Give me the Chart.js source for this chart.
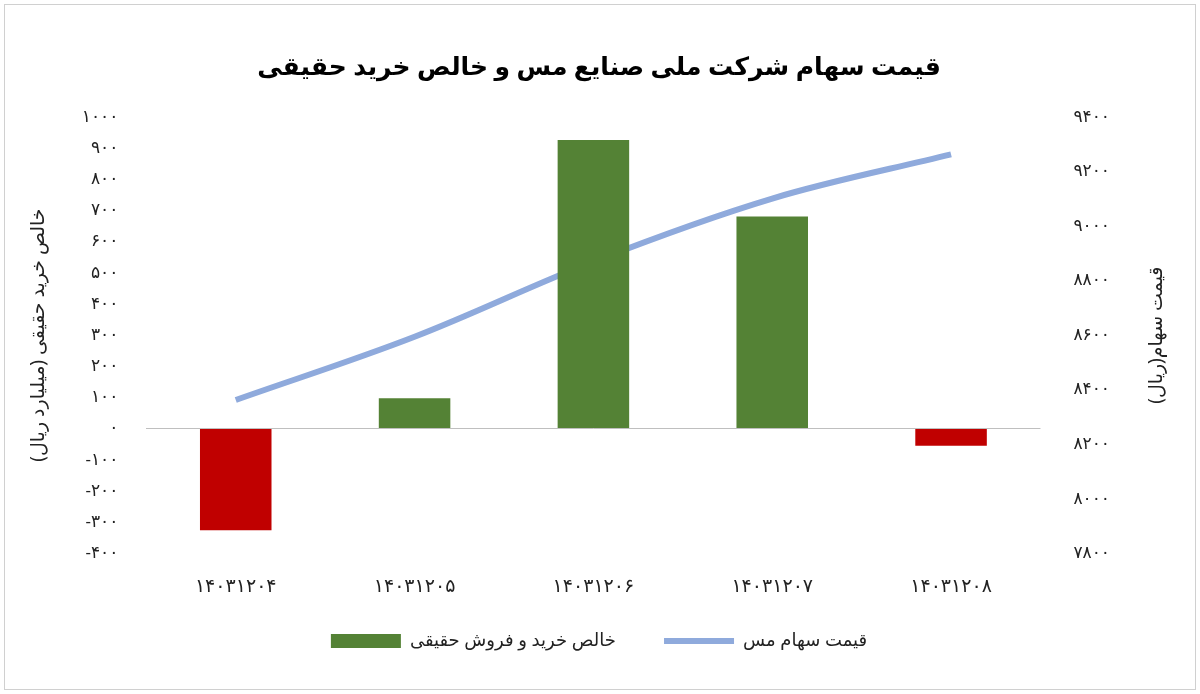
<!DOCTYPE html>
<html><head><meta charset="utf-8">
<script src="https://cdn.jsdelivr.net/npm/chart.js@4"></script>
<style>
body{margin:0;background:#fff;}
#wrap{position:absolute;left:4px;top:4px;width:1190px;height:684px;border:1px solid #d0d0d0;}
</style></head><body>
<div id="wrap"><canvas id="c"></canvas></div>
<script>
const categories = ["1403/12/04","1403/12/05","1403/12/06","1403/12/07","1403/12/08"];
const netBuy = [-326, 97, 926, 681, -55];
const price = [8362, 8594, 8870, 9101, 9263];
const leftTicks = {min:-400, max:1000, step:100};
const rightTicks = {min:7800, max:9400, step:200};
const fa = s => String(s).replace(/[0-9]/g, d => "۰۱۲۳۴۵۶۷۸۹"[d]);
const font = "'Noto Sans', 'DejaVu Sans', sans-serif";
Chart.defaults.font.family = font;
Chart.defaults.color = '#333';
const rightTitle = {
  id:'rightTitle',
  afterDraw(chart){
    const s = chart.scales.y2, ctx = chart.ctx;
    ctx.save();
    ctx.translate(s.right - 18, (s.top + s.bottom)/2);
    ctx.rotate(-Math.PI/2);
    ctx.font = "19px " + font; ctx.fillStyle = '#222';
    ctx.textAlign = 'center'; ctx.textBaseline = 'middle';
    ctx.fillText('قیمت سهام(ریال)', 0, 0);
    ctx.restore();
  }
};
new Chart(document.getElementById('c'), {
  data: {
    labels: categories,
    datasets: [
      {type:'bar', label:'خالص خرید و فروش حقیقی', data:netBuy, yAxisID:'y',
       backgroundColor: netBuy.map(v => v < 0 ? '#c00000' : '#548235'),
       barPercentage:0.4, categoryPercentage:1, pointStyle:'rect'},
      {type:'line', label:'قیمت سهام مس', data:price, yAxisID:'y2',
       borderColor:'#8faadc', borderWidth:6, pointRadius:0, tension:0.35, pointStyle:'line'}
    ]
  },
  plugins:[rightTitle],
  options: {
    responsive:true, maintainAspectRatio:false, animation:false,
    layout:{padding:{left:18,right:20,top:20,bottom:29}},
    plugins:{
      title:{display:true, text:'قیمت سهام شرکت ملی صنایع مس و خالص خرید حقیقی',
        font:{size:25, weight:'bold'}, color:'#000', padding:{top:28,bottom:34}},
      legend:{position:'bottom', labels:{usePointStyle:true, pointStyleWidth:70, boxHeight:14,
        font:{size:18}, color:'#222', padding:20,
        generateLabels(chart){
          return [
            {text:'خالص خرید و فروش حقیقی      ', fillStyle:'#548235', strokeStyle:'#548235', lineWidth:0, pointStyle:'rect', datasetIndex:0, fontColor:'#222'},
            {text:'قیمت سهام مس', fillStyle:'#8faadc', strokeStyle:'#8faadc', lineWidth:6, pointStyle:'line', datasetIndex:1, fontColor:'#222'}
          ];
        }}},
      tooltip:{enabled:false}
    },
    scales:{
      x:{grid:{display:false}, border:{display:false},
         ticks:{font:{size:19}, color:'#222', padding:14,
           callback:(v,i)=>fa(categories[i].replace(/\//g,''))}},
      y:{position:'left', min:leftTicks.min, max:leftTicks.max,
         grid:{drawOnChartArea:true, color:c=>c.tick.value===0?'#bfbfbf':'transparent', drawTicks:false},
         border:{display:false},
         ticks:{stepSize:leftTicks.step, font:{size:17}, color:'#222', padding:28, callback:v=>fa(v)},
         title:{display:true, text:'خالص خرید حقیقی (میلیارد ریال)', font:{size:19}, color:'#222'}},
      y2:{position:'right', min:rightTicks.min, max:rightTicks.max,
         grid:{display:false}, border:{display:false},
         ticks:{stepSize:rightTicks.step, font:{size:17}, color:'#222', padding:25, callback:v=>fa(v)},
         afterFit(s){ s.width += 40; }}
    }
  }
});
</script></body></html>
